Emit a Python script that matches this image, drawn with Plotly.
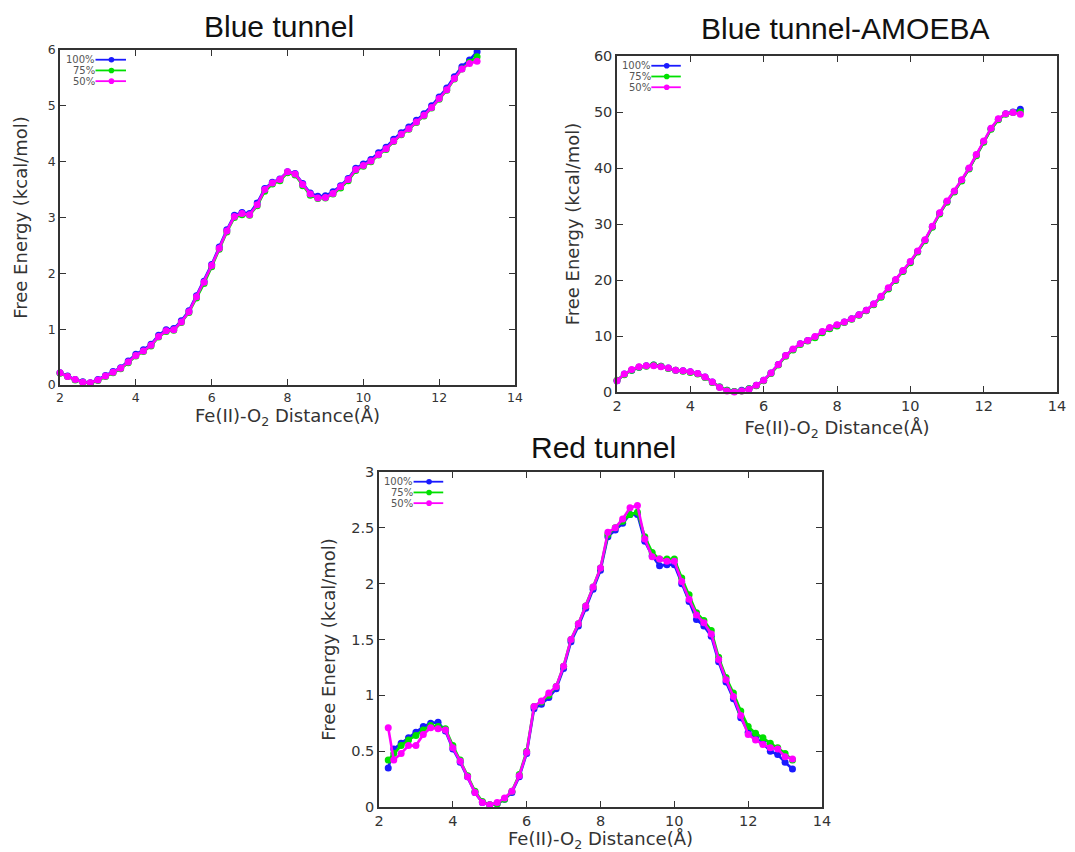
import plotly.graph_objects as go

# ---------------- data ----------------
BT_X = [2.0, 2.2, 2.4, 2.6, 2.8, 3.0, 3.2, 3.4, 3.6, 3.8, 4.0, 4.2, 4.4, 4.6, 4.8,
        5.0, 5.2, 5.4, 5.6, 5.8, 6.0, 6.2, 6.4, 6.6, 6.8, 7.0, 7.2, 7.4, 7.6, 7.8,
        8.0, 8.2, 8.4, 8.6, 8.8, 9.0, 9.2, 9.4, 9.6, 9.8, 10.0, 10.2, 10.4, 10.6,
        10.8, 11.0, 11.2, 11.4, 11.6, 11.8, 12.0, 12.2, 12.4, 12.6, 12.8, 13.0]

BT_100 = [0.22, 0.16, 0.10, 0.06, 0.04, 0.10, 0.17, 0.24, 0.31, 0.43, 0.55, 0.63, 0.73, 0.89, 0.99,
          1.01, 1.15, 1.33, 1.60, 1.86, 2.16, 2.47, 2.78, 3.04, 3.09, 3.07, 3.26, 3.52, 3.63, 3.69,
          3.82, 3.79, 3.61, 3.44, 3.38, 3.39, 3.46, 3.57, 3.70, 3.88, 3.96, 4.04, 4.16, 4.26,
          4.40, 4.52, 4.62, 4.74, 4.86, 5.00, 5.16, 5.32, 5.52, 5.70, 5.82, 5.97]
BT_75 = [0.21, 0.15, 0.09, 0.05, 0.03, 0.08, 0.15, 0.22, 0.29, 0.40, 0.52, 0.60, 0.70, 0.86, 0.96,
         0.98, 1.12, 1.30, 1.56, 1.82, 2.12, 2.43, 2.74, 3.00, 3.05, 3.04, 3.21, 3.47, 3.60, 3.66,
         3.80, 3.76, 3.57, 3.40, 3.34, 3.35, 3.42, 3.53, 3.66, 3.84, 3.92, 4.00, 4.12, 4.22,
         4.36, 4.48, 4.58, 4.70, 4.82, 4.96, 5.12, 5.28, 5.48, 5.66, 5.78, 5.88]
BT_50 = [0.22, 0.15, 0.10, 0.05, 0.04, 0.09, 0.16, 0.23, 0.30, 0.41, 0.53, 0.61, 0.71, 0.87, 0.97,
         0.99, 1.13, 1.31, 1.58, 1.84, 2.14, 2.45, 2.76, 3.02, 3.07, 3.05, 3.23, 3.50, 3.62, 3.68,
         3.82, 3.78, 3.59, 3.42, 3.35, 3.36, 3.43, 3.55, 3.68, 3.86, 3.93, 4.01, 4.13, 4.23,
         4.37, 4.49, 4.59, 4.71, 4.83, 4.97, 5.13, 5.29, 5.49, 5.66, 5.76, 5.80]

AM_X = BT_X
AM_100 = [2.0, 3.2, 3.9, 4.4, 4.7, 4.8, 4.6, 4.3, 3.9, 3.8, 3.6, 3.3, 2.7, 1.8, 0.9,
          0.3, 0.1, 0.3, 0.6, 1.2, 2.1, 3.4, 4.9, 6.5, 7.6, 8.6, 9.2, 9.8, 10.7, 11.4,
          11.9, 12.5, 13.1, 13.8, 14.6, 15.7, 17.0, 18.5, 20.0, 21.6, 23.2, 25.1, 27.1, 29.5,
          31.9, 34.0, 35.8, 37.8, 39.9, 42.3, 44.7, 47.0, 48.7, 49.7, 50.0, 50.5]
AM_75 = [2.1, 3.1, 3.9, 4.4, 4.6, 4.8, 4.6, 4.2, 3.9, 3.7, 3.5, 3.2, 2.6, 1.7, 0.9,
         0.3, 0.1, 0.2, 0.6, 1.1, 2.0, 3.3, 4.8, 6.4, 7.5, 8.5, 9.1, 9.7, 10.6, 11.3,
         11.8, 12.4, 13.0, 13.7, 14.5, 15.6, 16.9, 18.4, 19.9, 21.5, 23.1, 25.0, 27.0, 29.4,
         31.8, 33.9, 35.7, 37.7, 39.8, 42.2, 44.6, 46.9, 48.6, 49.6, 49.9, 50.0]
AM_50 = [2.0, 3.2, 4.0, 4.5, 4.7, 4.7, 4.5, 4.3, 3.9, 3.8, 3.6, 3.3, 2.7, 1.8, 0.8,
         0.2, 0.0, 0.2, 0.5, 1.2, 2.1, 3.4, 4.9, 6.5, 7.7, 8.6, 9.2, 9.9, 10.8, 11.5,
         12.0, 12.5, 13.1, 13.8, 14.6, 15.7, 17.1, 18.6, 20.1, 21.7, 23.3, 25.2, 27.2, 29.6,
         32.0, 34.1, 35.9, 37.9, 40.0, 42.4, 44.8, 47.1, 48.8, 49.7, 49.9, 49.6]

RT_X = [2.25, 2.4, 2.6, 2.8, 3.0, 3.2, 3.4, 3.6, 3.8, 4.0, 4.2, 4.4, 4.6, 4.8, 5.0,
        5.2, 5.4, 5.6, 5.8, 6.0, 6.2, 6.4, 6.6, 6.8, 7.0, 7.2, 7.4, 7.6, 7.8, 8.0,
        8.2, 8.4, 8.6, 8.8, 9.0, 9.2, 9.4, 9.6, 9.8, 10.0, 10.2, 10.4, 10.6, 10.8, 11.0,
        11.2, 11.4, 11.6, 11.8, 12.0, 12.2, 12.4, 12.6, 12.8, 13.0, 13.2]
RT_100 = [0.35, 0.52, 0.57, 0.62, 0.67, 0.72, 0.75, 0.76, 0.68, 0.52, 0.40, 0.27, 0.13, 0.04, 0.02,
          0.03, 0.07, 0.13, 0.27, 0.48, 0.88, 0.92, 0.98, 1.06, 1.24, 1.48, 1.62, 1.78, 1.95, 2.12,
          2.42, 2.48, 2.54, 2.62, 2.62, 2.38, 2.25, 2.16, 2.17, 2.17, 2.00, 1.84, 1.68, 1.62, 1.53,
          1.30, 1.12, 0.97, 0.80, 0.67, 0.62, 0.57, 0.50, 0.47, 0.40, 0.34]
RT_75 = [0.42, 0.48, 0.55, 0.60, 0.64, 0.69, 0.73, 0.72, 0.70, 0.55, 0.42, 0.28, 0.14, 0.05, 0.02,
         0.03, 0.07, 0.14, 0.29, 0.50, 0.90, 0.94, 1.00, 1.08, 1.26, 1.50, 1.64, 1.80, 1.97, 2.14,
         2.44, 2.50, 2.56, 2.62, 2.64, 2.42, 2.28, 2.22, 2.22, 2.22, 2.05, 1.90, 1.74, 1.67, 1.58,
         1.34, 1.16, 1.02, 0.86, 0.72, 0.66, 0.62, 0.57, 0.53, 0.48, 0.42]
RT_50 = [0.71, 0.42, 0.48, 0.55, 0.55, 0.65, 0.71, 0.70, 0.69, 0.53, 0.41, 0.27, 0.13, 0.04, 0.02,
         0.04, 0.08, 0.14, 0.28, 0.49, 0.90, 0.95, 1.02, 1.08, 1.26, 1.50, 1.64, 1.80, 1.97, 2.14,
         2.46, 2.50, 2.58, 2.68, 2.70, 2.40, 2.24, 2.22, 2.20, 2.20, 2.02, 1.86, 1.72, 1.65, 1.55,
         1.32, 1.14, 0.99, 0.82, 0.65, 0.60, 0.56, 0.53, 0.52, 0.45, 0.43]

SERIES_NAMES = ["100%", "75%", "50%"]
SERIES_COLORS = ["#1a1aff", "#00e000", "#ff00ff"]

PANEL_TITLES = ["Blue tunnel", "Blue tunnel-AMOEBA", "Red tunnel"]
X_TITLE = "Fe(II)-O<sub>2</sub> Distance(Å)"
Y_TITLE = "Free Energy (kcal/mol)"

# ---------------- figure ----------------
OFF = 8                      # page body margin
W, H = 1075 - OFF, 852 - OFF
# plot boxes in screen pixels: left, right, top, bottom
BOXES = [(60, 515, 50, 385), (617, 1057, 56, 392), (379, 822, 472, 807)]
TITLE_POS = [(278.5, 26.5), (845.0, 28.0), (603.0, 447.0)]
YRANGES = [[0, 6], [0, 60], [0, 3]]
YDTICK = [1, 10, 0.5]
TICKFS = [12.5, 14.5, 14.5]
XSTAND = [6, 8, 5]
YSTAND = [15, 10, 11]

panels = [
    (BT_X, [BT_100, BT_75, BT_50]),
    (AM_X, [AM_100, AM_75, AM_50]),
    (RT_X, [RT_100, RT_75, RT_50]),
]

fig = go.Figure()
for i, (xs, ys_list) in enumerate(panels):
    xa = "x" if i == 0 else f"x{i+1}"
    ya = "y" if i == 0 else f"y{i+1}"
    for name, col, ys in zip(SERIES_NAMES, SERIES_COLORS, ys_list):
        fig.add_trace(go.Scatter(
            x=xs, y=ys, xaxis=xa, yaxis=ya, name=name, mode="lines+markers",
            line=dict(color=col, width=2.6),
            marker=dict(color=col, size=7, symbol="circle"),
            showlegend=False, cliponaxis=False,
        ))

layout = dict(
    width=W, height=H, margin=dict(l=0, r=0, t=0, b=0),
    paper_bgcolor="white", plot_bgcolor="white",
    font=dict(family="DejaVu Sans", color="#333333"),
    showlegend=False,
)
annotations = []
shapes = []
for i, (l, r, t, b) in enumerate(BOXES):
    l, r, t, b = l - OFF, r - OFF, t - OFF, b - OFF
    sfx = "" if i == 0 else str(i + 1)
    common = dict(showline=True, linecolor="#333333", linewidth=1.5, mirror="ticks",
                  ticks="inside", ticklen=6, tickcolor="#333333", tickwidth=1.2,
                  showgrid=False, zeroline=False, automargin=False,
                  ticklabeloverflow="allow",
                  tickfont=dict(size=TICKFS[i], color="#333333", family="DejaVu Sans"))
    layout["xaxis" + sfx] = dict(
        domain=[l / W, r / W], range=[2, 14], dtick=2, anchor="y" + sfx,
        title=dict(text=X_TITLE, font=dict(size=18, color="#333333"), standoff=XSTAND[i]),
        **common)
    layout["yaxis" + sfx] = dict(
        domain=[1 - b / H, 1 - t / H], range=YRANGES[i], dtick=YDTICK[i], anchor="x" + sfx,
        title=dict(text=Y_TITLE, font=dict(size=18, color="#333333"), standoff=YSTAND[i]),
        **common)
    # panel title
    tx, ty = TITLE_POS[i]
    annotations.append(dict(
        text=PANEL_TITLES[i], x=(tx - OFF) / W, y=1 - (ty - OFF) / H, xref="paper", yref="paper",
        xanchor="center", yanchor="middle", showarrow=False,
        font=dict(family="Liberation Sans", size=30, color="#111111")))
    # gnuplot-style key (text left, sample right)
    rows = [0.971, 0.939, 0.907]
    for name, col, yy in zip(SERIES_NAMES, SERIES_COLORS, rows):
        annotations.append(dict(
            text=name, x=0.082, y=yy, xref=f"x{sfx} domain", yref=f"y{sfx} domain",
            xanchor="right", yanchor="middle", showarrow=False,
            font=dict(size=10, color="#555555")))
        shapes.append(dict(type="line", xref=f"x{sfx} domain", yref=f"y{sfx} domain",
                           x0=0.078, x1=0.145, y0=yy, y1=yy,
                           line=dict(color=col, width=1.8)))
        shapes.append(dict(type="circle", xref=f"x{sfx} domain", yref=f"y{sfx} domain",
                           xsizemode="pixel", ysizemode="pixel",
                           xanchor=0.113, yanchor=yy, x0=-2.8, x1=2.8, y0=-2.8, y1=2.8,
                           fillcolor=col, line=dict(color=col, width=0)))

layout["annotations"] = annotations
layout["shapes"] = shapes
fig.update_layout(**layout)
fig.write_html("out.html")
